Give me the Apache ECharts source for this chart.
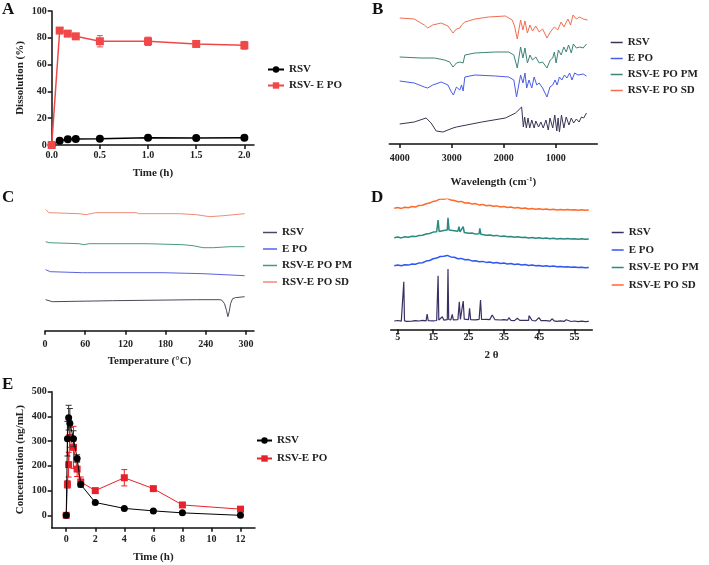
<!DOCTYPE html>
<html>
<head>
<meta charset="utf-8">
<script src="https://cdn.jsdelivr.net/npm/echarts@6/dist/echarts.min.js"></script>
<style>
  html, body { margin: 0; padding: 0; background: #fff; }
  #main { width: 709px; height: 565px; }
</style>
</head>
<body>
<div id="main"></div>
<script>
const FONT = "'Liberation Serif', 'Times New Roman', serif";

// ---- A: dissolution ----
const timeA = [0, 0.083, 0.167, 0.25, 0.5, 1, 1.5, 2];
const rsvA = [0, 3.2, 4.3, 4.5, 4.7, 5.5, 5.2, 5.5];
const eposA = [0, 85.4, 83.1, 81.1, 77.4, 77.4, 75.4, 74.4];
const eposAerr = [0, 1.2, 1.2, 1, 4.2, 3.1, 1.9, 2.9];

// ---- B: FTIR (wavenumber, offset intensity) ----
const ftirSD = [[4000,126],[3721,125],[3526,119],[3462,116],[3365,119],[3201,121],[3072,118],[2975,111],[2909,115],[2844,116],[2811,119],[2780,117],[2747,122],[2552,125],[2293,127],[1967,128],[1837,124],[1792,118],[1739,105],[1675,124],[1630,114],[1591,123],[1544,111],[1494,119],[1447,113],[1383,118],[1318,112],[1252,115],[1168,106],[1104,112],[1026,117],[960,114],[895,122],[843,117],[765,125],[714,119],[667,129],[603,125],[538,127],[472,125],[388,124]];
const ftirPM = [[4000,87],[3591,86],[3331,86],[3137,84],[3039,82],[2975,77],[2909,81],[2844,82],[2811,84],[2780,81],[2747,89],[2552,91],[2162,92],[1903,92],[1805,89],[1739,76],[1675,97],[1630,86],[1591,96],[1544,81],[1494,89],[1447,84],[1383,87],[1318,81],[1252,82],[1168,76],[1104,84],[1057,86],[1026,92],[993,81],[948,94],[895,89],[843,97],[798,92],[753,99],[700,91],[661,100],[603,96],[538,97],[472,96],[408,100]];
const ftirEPO = [[4000,63],[3721,61],[3526,57],[3462,56],[3365,59],[3201,62],[3072,59],[3006,52],[2967,49],[2909,57],[2877,59],[2844,54],[2811,59],[2780,53],[2747,67],[2552,69],[2162,68],[1903,67],[1805,64],[1753,47],[1720,48],[1675,69],[1630,61],[1591,71],[1558,56],[1513,64],[1460,56],[1415,67],[1363,59],[1318,61],[1252,56],[1168,47],[1110,57],[1057,59],[1012,64],[973,59],[928,67],[882,64],[831,69],[784,66],[733,71],[687,64],[636,71],[570,69],[472,70],[408,68]];
const ftirRSV = [[4000,20],[3721,22],[3493,26],[3396,21],[3298,13],[3170,12],[2975,16],[2909,17],[2421,22],[1967,26],[1772,31],[1655,37],[1622,17],[1597,27],[1564,16],[1532,26],[1500,16],[1460,24],[1415,16],[1383,23],[1330,17],[1285,22],[1240,16],[1188,24],[1143,14],[1110,26],[1057,16],[1018,29],[979,13],[954,26],[928,12],[889,29],[843,16],[798,27],[745,19],[700,26],[655,21],[603,25],[550,22],[505,27],[461,26],[408,31]];

// ---- C: DSC (temperature, offset heat flow) ----
const dscSD = [[1,121],[6,118],[51,117],[61,116],[76,118],[136,118],[141,117],[201,117],[226,116],[246,114],[266,115],[298,117]];
const dscPM = [[1,89],[6,88],[51,87],[58,86],[66,87],[151,87],[206,86],[221,85],[236,83],[251,83],[276,84],[298,84]];
const dscEPO = [[1,61],[8,59],[56,58],[58,57],[63,58],[176,58],[236,57],[298,55]];
const dscRSV = [[1,31],[11,29],[101,30],[226,31],[261,31],[264,30.5],[268,27],[271,20],[273,14],[275,19],[277,27],[280,32],[284,33],[298,34]];

// ---- D: XRD (2 theta, offset intensity) ----
const xrdSD = [[4,121.0],[5,121.8],[6,120.9],[7,122.0],[8,121.6],[9,122.8],[10,122.3],[11,123.9],[12,124.1],[13,125.6],[14,126.2],[15,127.9],[16,128.6],[17,130.4],[18,130.0],[19,131.0],[20,129.2],[21,128.8],[22,127.5],[23,127.9],[24,126.3],[25,126.6],[26,125.2],[27,125.7],[28,124.4],[29,124.9],[30,123.6],[31,124.0],[32,123.0],[33,123.4],[34,122.3],[35,122.8],[36,121.9],[37,122.3],[38,121.4],[39,121.8],[40,120.8],[41,121.2],[42,120.4],[43,120.9],[44,120.1],[45,120.6],[46,119.8],[47,120.3],[48,119.6],[49,120.1],[50,119.4],[51,119.9],[52,119.3],[53,119.8],[54,119.2],[55,119.6],[56,119.1],[57,119.5],[58,119.0],[59,119.4]];
const xrdPM = [[4,91.6],[5,92.3],[6,91.4],[7,92.5],[8,92.0],[9,93.1],[10,92.7],[11,93.8],[12,94.0],[13,95.3],[14,95.8],[15,97.2],[16,97.6],[16.4,109.3],[16.7,97.8],[17,98.6],[18,98.9],[19,99.4],[19.2,111.6],[19.5,99.2],[20,100.5],[21,98.6],[22,98.1],[22.3,102.6],[22.6,97.5],[23,97.9],[23.5,102.6],[23.8,96.8],[24,97.0],[25,96.1],[26,96.3],[27,95.2],[28,95.6],[28.2,101.0],[28.5,95.0],[29,94.8],[30,94.1],[31,94.4],[32,93.5],[33,93.9],[34,92.9],[35,93.3],[36,92.6],[37,92.9],[38,92.1],[39,92.5],[40,91.7],[41,92.1],[42,91.3],[43,91.8],[44,91.0],[45,91.5],[46,90.8],[47,91.2],[48,90.6],[49,91.0],[50,90.4],[51,90.9],[52,90.3],[53,90.7],[54,90.2],[55,90.6],[56,90.1],[57,90.5],[58,90.0],[59,90.4]];
const xrdEPO = [[4,63.6],[5,64.4],[6,63.5],[7,64.6],[8,64.2],[9,65.3],[10,65.0],[11,66.4],[12,66.6],[13,68.2],[14,68.8],[15,70.5],[16,71.2],[17,72.8],[18,73.1],[19,73.9],[20,72.4],[21,72.0],[22,70.6],[23,70.9],[24,69.5],[25,69.7],[26,68.4],[27,68.6],[28,67.6],[29,67.9],[30,66.9],[31,67.2],[32,66.3],[33,66.7],[34,65.8],[35,66.2],[36,65.4],[37,65.8],[38,64.9],[39,65.2],[40,64.4],[41,64.8],[42,63.9],[43,64.3],[44,63.5],[45,63.9],[46,63.1],[47,63.5],[48,62.8],[49,63.2],[50,62.5],[51,62.9],[52,62.2],[53,62.6],[54,62.0],[55,62.4],[56,61.7],[57,62.1],[58,61.5],[59,61.9]];
const xrdRSV = [[4,8.3],[5,8.8],[6,8.1],[6.5,8.6],[6.7,47.5],[6.9,8.5],[7.5,8.0],[8,8.6],[9,8.2],[10,8.7],[11,8.3],[12,8.9],[13,8.5],[13.3,15.3],[13.6,8.6],[14,8.9],[15,8.4],[16,8.8],[16.2,9.0],[16.4,53.5],[16.6,9.2],[17,9.5],[17.6,12.5],[18,9.2],[19,9.6],[19.2,60.3],[19.4,9.8],[20,9.4],[20.4,15.0],[20.7,9.5],[21,9.9],[22,9.6],[22.4,27.6],[22.7,10.0],[23,10.2],[23.5,28.3],[23.8,10.1],[24,9.8],[25,9.6],[25.3,21.0],[25.6,9.7],[26,10.1],[27,9.5],[28,9.9],[28.4,29.3],[28.7,9.8],[29,9.4],[30,10.0],[31,9.7],[31.7,14.3],[32,12.5],[32.5,9.6],[33,10.2],[34,9.3],[35,9.7],[36,9.1],[36.4,11.6],[37,9.0],[38,8.7],[38.8,11.0],[39.5,8.9],[40,8.5],[41,8.9],[42,9.0],[42.1,13.6],[42.6,12.8],[43,8.8],[44,8.4],[44.9,11.6],[45.5,8.6],[46,8.3],[47,8.7],[48,8.2],[48.7,10.5],[49.2,8.4],[50,8.0],[51,8.5],[52,7.9],[52.6,9.5],[53,8.1],[54,7.8],[55,8.3],[56,7.7],[57,8.1],[58,7.6],[59,8.0]];

// ---- E: pharmacokinetics ----
const timeE = [0, 0.083, 0.167, 0.25, 0.5, 0.75, 1, 2, 4, 6, 8, 12];
const rsvE = [0, 310, 395, 372, 310, 230, 125, 52, 28, 18, 10, 0];
const rsvEerr = [0, 70, 50, 60, 32, 15, 10, 4, 3, 3, 2, 0];
const eposE = [0, 125, 205, 315, 275, 187, 135, 100, 152, 108, 42, 25];
const eposEerr = [0, 15, 50, 40, 85, 30, 20, 8, 33, 8, 6, 5];

const namesSpec = ['RSV', 'E PO', 'RSV-E PO PM', 'RSV-E PO SD'];
const colB = ['#3b3552', '#4a5ce6', '#3d8476', '#f26e50'];
const colC = ['#4a4a5e', '#5a62e0', '#4a9a80', '#f08a78'];
const colD = ['#3a2f62', '#3058f0', '#2a8a80', '#ff6a28'];

function pairs(xs, ys) { return xs.map((x, i) => [x, ys[i]]); }
function triples(xs, ys, es) { return xs.map((x, i) => [x, ys[i], es[i]]); }

const labelStyle = { fontFamily: FONT, fontWeight: 'bold', fontSize: 10, color: '#222' };
const nameStyle = { fontFamily: FONT, fontWeight: 'bold', fontSize: 11, color: '#222' };

function axis(grid, o) {
  const ax = {
    type: 'value', gridIndex: grid, min: o.min, max: o.max, inverse: !!o.inverse,
    show: o.show !== false,
    splitLine: { show: false },
    axisLine: { show: true, onZero: false, lineStyle: { color: '#111', width: 1.5 } },
    axisTick: { show: true, inside: false, length: o.tickLen || 4, lineStyle: { color: '#111', width: 1.5 } },
    axisLabel: Object.assign({ margin: o.margin || 5, formatter: o.fmt || (v => String(v)) }, labelStyle),
    name: o.name || '', nameLocation: 'middle', nameGap: o.nameGap || 20,
    nameTextStyle: Object.assign({}, nameStyle, o.nameRich ? { rich: o.nameRich } : {})
  };
  if (o.ticks) {
    ax.axisLabel.customValues = o.ticks;
    ax.axisTick.customValues = o.ticks;
  }
  if (o.interval) ax.interval = o.interval;
  return ax;
}

function lineSeries(name, grid, data, color, width) {
  return {
    name, type: 'line', xAxisIndex: grid, yAxisIndex: grid, data,
    showSymbol: false, symbol: 'none', silent: true,
    lineStyle: { color, width: width || 1 }, itemStyle: { color },
    emphasis: { disabled: true }
  };
}

function markSeries(name, grid, data, color, symbol, size, width, z) {
  return {
    name, type: 'line', xAxisIndex: grid, yAxisIndex: grid, data,
    symbol, symbolSize: size, showSymbol: true, silent: true, z,
    lineStyle: { color, width }, itemStyle: { color },
    emphasis: { disabled: true }
  };
}

function errorSeries(grid, data, color, capW, z) {
  return {
    type: 'custom', xAxisIndex: grid, yAxisIndex: grid, data, silent: true, z,
    encode: { x: 0, y: 1 },
    renderItem(params, api) {
      const x = api.value(0), y = api.value(1), e = api.value(2);
      if (!e) return null;
      const hi = api.coord([x, y + e]);
      const lo = api.coord([x, y - e]);
      const st = { stroke: color, lineWidth: 1 };
      return {
        type: 'group', children: [
          { type: 'line', shape: { x1: hi[0], y1: hi[1], x2: lo[0], y2: lo[1] }, style: st },
          { type: 'line', shape: { x1: hi[0] - capW, y1: hi[1], x2: hi[0] + capW, y2: hi[1] }, style: st },
          { type: 'line', shape: { x1: lo[0] - capW, y1: lo[1], x2: lo[0] + capW, y2: lo[1] }, style: st }
        ]
      };
    }
  };
}

function specLegend(left, top, gap, w, colors) {
  return {
    orient: 'vertical', left, top, padding: 0, itemGap: gap,
    icon: 'rect', itemWidth: w, itemHeight: 1.5, selectedMode: false,
    textStyle: { fontFamily: FONT, fontWeight: 'bold', fontSize: 11, color: '#222' },
    data: namesSpec.map((n, i) => ({ name: n, itemStyle: { color: colors[i], borderWidth: 0 } }))
  };
}

const chart = echarts.init(document.getElementById('main'));

const option = {
  animation: false,
  backgroundColor: '#fff',
  title: [
    { text: 'A', left: 2, top: 1 },
    { text: 'B', left: 372, top: 1 },
    { text: 'C', left: 2, top: 189 },
    { text: 'D', left: 371, top: 189 },
    { text: 'E', left: 2, top: 376 }
  ].map(t => Object.assign(t, { padding: 0, textStyle: { fontFamily: FONT, fontWeight: 'bold', fontSize: 17, color: '#111' } })),
  grid: [
    { left: 51.7, top: 11, width: 202.3, height: 134 },
    { left: 389.3, top: 10, width: 208, height: 134 },
    { left: 45, top: 200.7, width: 209, height: 130 },
    { left: 390.7, top: 199.3, width: 201.6, height: 130 },
    { left: 51.7, top: 391.7, width: 203.3, height: 136 }
  ].map(g => Object.assign(g, { outerBoundsMode: 'none', containLabel: false })),
  xAxis: [
    axis(0, { min: 0, max: 2.1, ticks: [0, 0.5, 1, 1.5, 2], fmt: v => v.toFixed(1), name: 'Time (h)', nameGap: 23, margin: 5 }),
    axis(1, { min: 200, max: 4200, inverse: true, ticks: [1000, 2000, 3000, 4000], name: 'Wavelength (cm{sup|-1})', nameGap: 32, margin: 9,
      nameRich: { sup: { fontFamily: FONT, fontWeight: 'bold', fontSize: 7, verticalAlign: 'top', lineHeight: 12 } } }),
    axis(2, { min: 0, max: 312, ticks: [0, 60, 120, 180, 240, 300], name: 'Temperature (°C)', nameGap: 25, margin: 9 }),
    axis(3, { min: 3, max: 60, ticks: [5, 15, 25, 35, 45, 55], name: '2 θ', nameGap: 20, margin: 3, tickLen: 5 }),
    axis(4, { min: -1, max: 13, ticks: [0, 2, 4, 6, 8, 10, 12], name: 'Time (h)', nameGap: 24, margin: 7 })
  ],
  yAxis: [
    axis(0, { min: 0, max: 100, interval: 20, name: 'Dissolution (%)', nameGap: 26 }),
    axis(1, { min: 0, max: 134, show: false }),
    axis(2, { min: 0, max: 130, show: false }),
    axis(3, { min: 0, max: 130, show: false }),
    axis(4, { min: -50, max: 500, ticks: [0, 100, 200, 300, 400, 500], name: 'Concentration (ng/mL)', nameGap: 26 })
  ],
  legend: [
    {
      orient: 'vertical', left: 267, top: 64, padding: 0, itemGap: 5, itemWidth: 16, itemHeight: 8, selectedMode: false,
      textStyle: { fontFamily: FONT, fontWeight: 'bold', fontSize: 11, color: '#222' },
      data: ['RSV', 'RSV- E PO']
    },
    specLegend(610.7, 37, 5, 12, colB),
    specLegend(263, 227, 5.5, 14, colC),
    specLegend(611.7, 227, 6.5, 12, colD),
    {
      orient: 'vertical', left: 256, top: 435, padding: 0, itemGap: 7, itemWidth: 15, itemHeight: 8, selectedMode: false,
      textStyle: { fontFamily: FONT, fontWeight: 'bold', fontSize: 11, color: '#222' },
      data: ['RSV', 'RSV-E PO']
    }
  ],
  series: [
    // A
    errorSeries(0, triples(timeA, eposA, eposAerr), '#f04848', 3, 2),
    markSeries('RSV', 0, pairs(timeA, rsvA), '#000', 'circle', 8, 1.5, 3),
    markSeries('RSV- E PO', 0, pairs(timeA, eposA), '#f04848', 'rect', 8, 1.5, 3),
    // B
    lineSeries('RSV', 1, ftirRSV, colB[0]),
    lineSeries('E PO', 1, ftirEPO, colB[1]),
    lineSeries('RSV-E PO PM', 1, ftirPM, colB[2]),
    lineSeries('RSV-E PO SD', 1, ftirSD, colB[3]),
    // C
    lineSeries('RSV', 2, dscRSV, colC[0]),
    lineSeries('E PO', 2, dscEPO, colC[1]),
    lineSeries('RSV-E PO PM', 2, dscPM, colC[2]),
    lineSeries('RSV-E PO SD', 2, dscSD, colC[3]),
    // D
    lineSeries('RSV', 3, xrdRSV, colD[0], 1.2),
    lineSeries('E PO', 3, xrdEPO, colD[1], 1.5),
    lineSeries('RSV-E PO PM', 3, xrdPM, colD[2], 1.5),
    lineSeries('RSV-E PO SD', 3, xrdSD, colD[3], 1.5),
    // E
    errorSeries(4, triples(timeE, eposE, eposEerr), '#e8222a', 3, 2),
    markSeries('RSV-E PO', 4, pairs(timeE, eposE), '#e8222a', 'rect', 7, 1, 3),
    errorSeries(4, triples(timeE, rsvE, rsvEerr), '#333', 3, 4),
    markSeries('RSV', 4, pairs(timeE, rsvE), '#000', 'circle', 7, 1, 5)
  ]
};

chart.setOption(option);
</script>
</body>
</html>
